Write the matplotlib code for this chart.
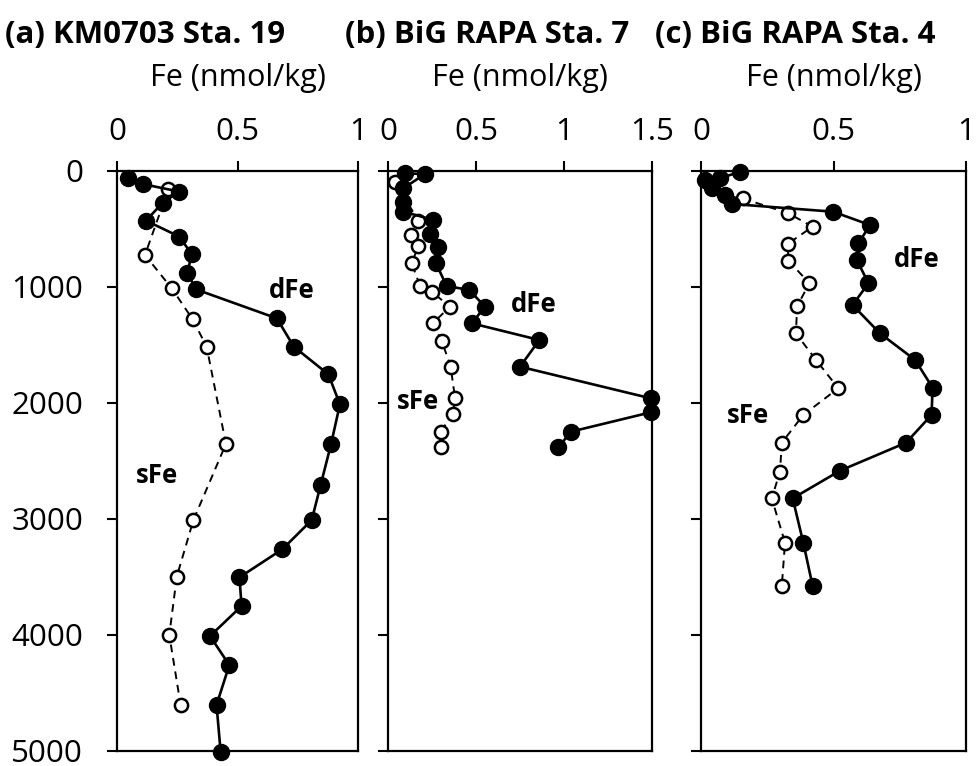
import matplotlib.pyplot as plt

plt.rcParams['font.family'] = ['Open Sans', 'DejaVu Sans']

# (a) KM0703 Sta. 19
a_dfe_x = [0.047, 0.106, 0.259, 0.19, 0.12, 0.259, 0.31, 0.292, 0.327, 0.663, 0.734, 0.877,
           0.925, 0.888, 0.845, 0.808, 0.686, 0.508, 0.517, 0.386, 0.466, 0.413, 0.430]
a_dfe_d = [63, 112, 178, 273, 428, 566, 718, 876, 1020, 1270, 1515, 1753,
           2011, 2356, 2707, 3009, 3261, 3503, 3750, 4009, 4259, 4603, 5006]
a_sfe_x = [0.213, 0.116, 0.227, 0.314, 0.372, 0.452, 0.317, 0.248, 0.217, 0.264]
a_sfe_d = [158, 724, 1011, 1279, 1515, 2353, 3009, 3497, 4000, 4603]

# (b) BiG RAPA Sta. 7
b_dfe_x = [0.097, 0.21, 0.087, 0.087, 0.087, 0.258, 0.239, 0.286, 0.271, 0.333, 0.462, 0.551,
           0.476, 0.86, 0.75, 1.494, 1.494, 1.04, 0.968]
b_dfe_d = [20, 26, 149, 264, 350, 422, 543, 658, 790, 991, 1026, 1170,
           1313, 1457, 1687, 1960, 2080, 2247, 2382]
b_sfe_x = [0.04, 0.172, 0.129, 0.172, 0.135, 0.182, 0.248, 0.352, 0.254, 0.305, 0.356,
           0.381, 0.368, 0.299, 0.299]
b_sfe_d = [92, 428, 552, 647, 796, 991, 1040, 1170, 1313, 1463, 1687,
           1960, 2095, 2247, 2382]

# (c) BiG RAPA Sta. 4
c_dfe_x = [0.147, 0.072, 0.015, 0.042, 0.09, 0.117, 0.499, 0.638, 0.594, 0.588, 0.632, 0.572,
           0.675, 0.808, 0.874, 0.87, 0.774, 0.525, 0.346, 0.386, 0.421]
c_dfe_d = [9, 60, 78, 147, 207, 284, 351, 466, 623, 767, 968, 1155,
           1399, 1629, 1868, 2103, 2342, 2583, 2822, 3204, 3575]
c_sfe_x = [0.157, 0.33, 0.421, 0.327, 0.33, 0.409, 0.363, 0.358, 0.434, 0.518, 0.386,
           0.305, 0.298, 0.267, 0.317, 0.305]
c_sfe_d = [236, 365, 480, 629, 773, 968, 1164, 1399, 1629, 1873, 2103,
           2342, 2592, 2822, 3204, 3575]

titles = ['(a) KM0703 Sta. 19', '(b) BiG RAPA Sta. 7', '(c) BiG RAPA Sta. 4']
xmax = [1, 1.5, 1]
xticks = [[0, 0.5, 1], [0, 0.5, 1, 1.5], [0, 0.5, 1]]
xticklabels = [['0', '0.5', '1'], ['0', '0.5', '1', '1.5'], ['0', '0.5', '1']]
yticks = [0, 1000, 2000, 3000, 4000, 5000]
# label positions (Fe, depth)
dfe_lab = [(0.724, 1032), (0.83, 1155), (0.814, 767)]
sfe_lab = [(0.165, 2629), (0.172, 1989), (0.178, 2112)]
data = [(a_dfe_x, a_dfe_d, a_sfe_x, a_sfe_d),
        (b_dfe_x, b_dfe_d, b_sfe_x, b_sfe_d),
        (c_dfe_x, c_dfe_d, c_sfe_x, c_sfe_d)]

W, H = 977, 766
fig = plt.figure(figsize=(W / 100, H / 100), dpi=100)
boxes = [(117, 241), (388, 264), (701, 265)]
top, bottom = 171, 751
title_x = [5, 345, 655]

for i, (left, width) in enumerate(boxes):
    ax = fig.add_axes([left / W, (H - bottom) / H, width / W, (bottom - top) / H])
    dx, dd, sx, sd = data[i]
    ax.plot(sx, sd, color='black', linestyle=(0, (4, 3)), linewidth=1.4,
            marker='o', markersize=9.5, markerfacecolor='white',
            markeredgecolor='black', markeredgewidth=1.8, zorder=2)
    ax.plot(dx, dd, color='black', linestyle='-', linewidth=1.9,
            marker='o', markersize=11.5, markerfacecolor='black',
            markeredgecolor='black', zorder=3, clip_on=False)
    ax.set_xlim(0, xmax[i])
    ax.set_ylim(5000, 0)
    ax.xaxis.tick_top()
    ax.set_xticks(xticks[i])
    ax.set_xticklabels(xticklabels[i])
    ax.set_yticks(yticks)
    if i == 0:
        ax.set_yticklabels([str(t) for t in yticks])
    else:
        ax.set_yticklabels([])
    ax.tick_params(direction='out', length=7.5, width=1.5, labelsize=22.5)
    ax.tick_params(axis='x', pad=10)
    ax.tick_params(axis='y', pad=17)
    for s in ax.spines.values():
        s.set_linewidth(1.6)
    ax.set_xlabel('Fe (nmol/kg)', fontsize=22, labelpad=22)
    ax.xaxis.set_label_position('top')
    ax.text(dfe_lab[i][0], dfe_lab[i][1], 'dFe', fontsize=18.5,
            fontweight='bold', ha='center', va='center')
    ax.text(sfe_lab[i][0], sfe_lab[i][1], 'sFe', fontsize=18.5,
            fontweight='bold', ha='center', va='center')
    fig.text(title_x[i] / W, 1 - 35 / H, titles[i], fontsize=22.5,
             fontweight='bold', ha='left', va='center')

fig.savefig('out.png', dpi=100)
